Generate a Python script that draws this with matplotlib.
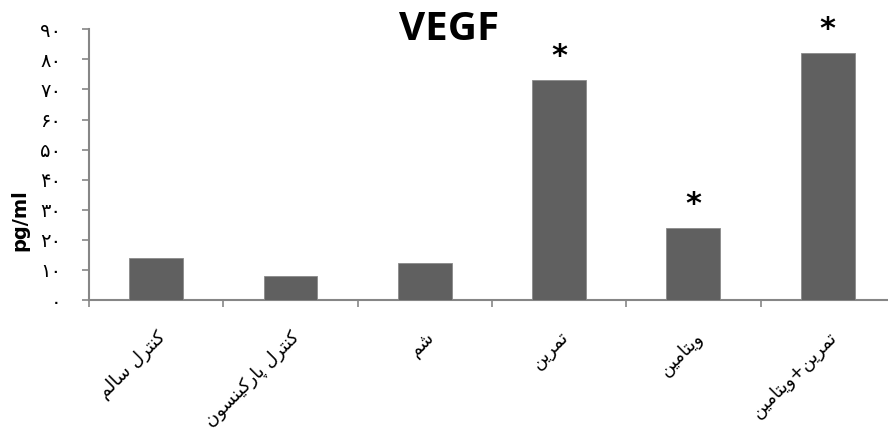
import matplotlib
matplotlib.use("Agg")
import matplotlib.pyplot as plt
from matplotlib.ticker import FixedLocator

# ---------------- data ----------------
categories = ["کنترل سالم", "کنترل پارکینسون", "شم", "تمرین", "ویتامین", "تمرین+ویتامین"]
values = [13.9, 8.1, 12.2, 73.3, 24.1, 82.2]
significant = [False, False, False, True, True, True]
ytick_values = [0, 10, 20, 30, 40, 50, 60, 70, 80, 90]
ytick_labels = ["۰", "۱۰", "۲۰", "۳۰", "۴۰", "۵۰", "۶۰", "۷۰", "۸۰", "۹۰"]
title = "VEGF"
ylabel = "pg/ml"

# ------------- minimal Persian shaping (presentation forms) -------------
FORMS = {
    "\u0627": ("\uFE8D", "\uFE8E", None, None),
    "\u0628": ("\uFE8F", "\uFE90", "\uFE91", "\uFE92"),
    "\u062A": ("\uFE95", "\uFE96", "\uFE97", "\uFE98"),
    "\u062F": ("\uFEA9", "\uFEAA", None, None),
    "\u0631": ("\uFEAD", "\uFEAE", None, None),
    "\u0633": ("\uFEB1", "\uFEB2", "\uFEB3", "\uFEB4"),
    "\u0634": ("\uFEB5", "\uFEB6", "\uFEB7", "\uFEB8"),
    "\u0644": ("\uFEDD", "\uFEDE", "\uFEDF", "\uFEE0"),
    "\u0645": ("\uFEE1", "\uFEE2", "\uFEE3", "\uFEE4"),
    "\u0646": ("\uFEE5", "\uFEE6", "\uFEE7", "\uFEE8"),
    "\u0648": ("\uFEED", "\uFEEE", None, None),
    "\u06CC": ("\uFBFC", "\uFBFD", "\uFBFE", "\uFBFF"),
    "\u06A9": ("\uFB8E", "\uFB8F", "\uFB90", "\uFB91"),
    "\u067E": ("\uFB56", "\uFB57", "\uFB58", "\uFB59"),
}


def shape(text):
    chars = list(text)
    n = len(chars)
    out = []
    for i, c in enumerate(chars):
        if c not in FORMS:
            out.append(c)
            continue
        prev = chars[i - 1] if i > 0 else None
        nxt = chars[i + 1] if i < n - 1 else None
        iso, fin, ini, med = FORMS[c]
        cp = prev in FORMS and FORMS[prev][2] is not None
        cn = nxt in FORMS and ini is not None
        if cp and cn:
            g = med
        elif cp:
            g = fin
        elif cn:
            g = ini
        else:
            g = iso
        out.append(g)
    return "".join(reversed(out))


plt.rcParams["font.family"] = ["DejaVu Sans"]

W, H = 888, 440
fig = plt.figure(figsize=(W / 100, H / 100), dpi=100)
left = 89 / W
bottom = 1 - 300 / H
height = (300 - 29.3) / H
width = 6 * 134.3 / W
ax = fig.add_axes([left, bottom, width, height])

x = list(range(len(categories)))
ax.bar(x, values, width=0.4, color="#606060", edgecolor="#8a8a8a", linewidth=0.6, zorder=3)

for xi, v, s in zip(x, values, significant):
    if s:
        ax.text(xi, v + 7.6, "*", ha="center", va="center", fontsize=22,
                fontweight="bold", color="black")

ax.set_xlim(-0.5, len(categories) - 0.5)
ax.set_ylim(0, 90)
ax.set_yticks(ytick_values)
ax.set_yticklabels(ytick_labels, fontsize=14)
ax.tick_params(axis="y", length=5, width=1.2, color="#868686", pad=15)

ax.set_xticks(x)
ax.set_xticklabels([shape(c) for c in categories], rotation=45, ha="right",
                   rotation_mode="anchor", fontsize=13)
ax.tick_params(axis="x", which="major", length=0, pad=20)
ax.xaxis.set_minor_locator(FixedLocator([i - 0.5 for i in range(len(categories) + 1)]))
ax.tick_params(axis="x", which="minor", length=5, width=1.2, color="#868686")

for sp in ["top", "right"]:
    ax.spines[sp].set_visible(False)
for sp in ["left", "bottom"]:
    ax.spines[sp].set_color("#868686")
    ax.spines[sp].set_linewidth(1.5)

fig.text(449 / W, 1 - 29 / H, title, ha="center", va="center", fontsize=29,
         fontweight="bold", family="Open Sans")
fig.text(20 / W, 1 - 220 / H, ylabel, rotation=90, ha="center", va="center",
         fontsize=14, fontweight="bold")

fig.savefig("out.png", dpi=100)
